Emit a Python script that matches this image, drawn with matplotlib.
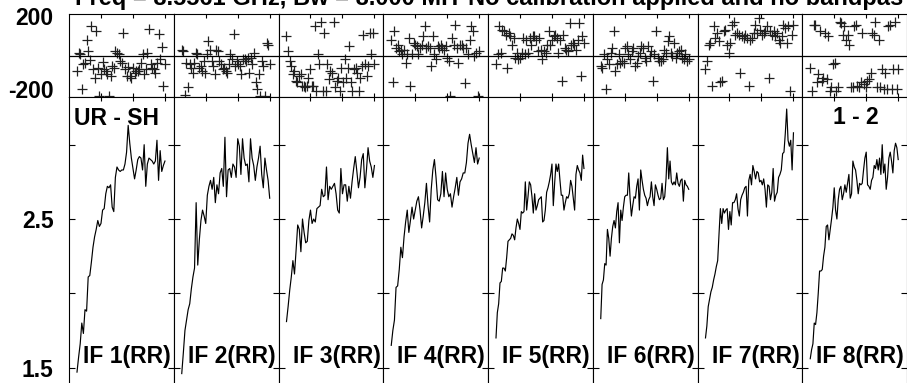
import numpy as np
import matplotlib
matplotlib.use('Agg')
import matplotlib.pyplot as plt

plt.rcParams['font.family'] = ['Liberation Sans', 'DejaVu Sans']
plt.rcParams['font.weight'] = 'bold'

# ====================== DATA ======================
title_left = "Freq = 8.5561 GHz, Bw = 8.000 MH"
title_right = "No calibration applied and no bandpas"
baseline_label = "UR - SH"
pol_label = "1 - 2"
if_labels = ['IF 1(RR)', 'IF 2(RR)', 'IF 3(RR)', 'IF 4(RR)',
             'IF 5(RR)', 'IF 6(RR)', 'IF 7(RR)', 'IF 8(RR)']

chan_first, chan_last = 5, 60
chan_ticks = [20, 40, 60]
amp_ticks = [1.5, 2.0, 2.5, 3.0]
amp_ticklabels = ['1.5', '', '2.5', '']

amp_if1 = [1.47, 1.57, 1.66, 1.80, 1.73, 1.89, 1.88, 2.11, 2.12, 2.21, 2.31, 2.38, 2.43, 2.49,
           2.45, 2.47, 2.56, 2.57, 2.67, 2.72, 2.71, 2.73, 2.58, 2.55, 2.78, 2.85, 2.83, 2.82,
           2.83, 2.83, 2.87, 2.95, 3.13, 3.01, 2.91, 2.84, 2.77, 2.83, 2.90, 2.92, 2.91, 2.83,
           3.00, 2.72, 2.87, 2.91, 2.90, 2.89, 2.87, 2.89, 3.03, 2.76, 2.96, 2.82, 2.86, 2.89]
amp_if2 = [1.46, 1.60, 1.75, 1.82, 1.89, 1.93, 2.03, 2.11, 2.17, 2.61, 2.19, 2.36, 2.49, 2.56,
           2.52, 2.47, 2.66, 2.72, 2.76, 2.70, 2.78, 2.61, 2.73, 2.67, 2.81, 2.84, 2.72, 3.05,
           2.65, 2.83, 2.84, 2.78, 2.87, 2.85, 2.78, 3.04, 2.99, 2.80, 3.04, 2.91, 2.86, 2.87,
           2.75, 3.04, 2.91, 2.86, 2.76, 2.85, 2.91, 2.99, 2.80, 2.71, 2.91, 2.83, 2.76, 2.64]
amp_if3 = [1.81, 1.91, 2.02, 2.11, 2.22, 2.13, 2.29, 2.46, 2.43, 2.28, 2.50, 2.41, 2.34, 2.35,
           2.49, 2.56, 2.47, 2.50, 2.48, 2.57, 2.58, 2.59, 2.70, 2.65, 2.66, 2.85, 2.63, 2.72,
           2.70, 2.72, 2.74, 2.67, 2.56, 2.54, 2.84, 2.67, 2.73, 2.73, 2.62, 2.72, 2.64, 2.75,
           2.84, 2.92, 2.82, 2.71, 2.78, 2.90, 2.94, 2.71, 2.83, 2.98, 2.89, 2.85, 2.78, 2.86]
amp_if4 = [1.65, 1.75, 1.82, 2.04, 2.05, 2.16, 2.31, 2.24, 2.38, 2.48, 2.56, 2.41, 2.49, 2.58,
           2.50, 2.56, 2.62, 2.65, 2.56, 2.44, 2.52, 2.61, 2.74, 2.59, 2.48, 2.70, 2.83, 2.90,
           2.78, 2.63, 2.62, 2.67, 2.82, 2.65, 2.81, 2.70, 2.65, 2.67, 2.58, 2.65, 2.71, 2.78,
           2.66, 2.75, 2.77, 2.81, 2.81, 2.88, 3.01, 3.07, 3.00, 2.94, 2.88, 2.98, 2.87, 2.91]
amp_if5 = [1.70, 1.87, 1.93, 2.07, 2.08, 2.17, 2.17, 2.15, 2.24, 2.35, 2.36, 2.37, 2.40, 2.39,
           2.36, 2.44, 2.50, 2.47, 2.43, 2.55, 2.54, 2.55, 2.75, 2.56, 2.65, 2.75, 2.73, 2.65,
           2.54, 2.67, 2.56, 2.59, 2.63, 2.64, 2.65, 2.48, 2.49, 2.56, 2.68, 2.71, 2.75, 2.80,
           2.87, 2.59, 2.74, 2.87, 2.82, 2.87, 2.76, 2.66, 2.66, 2.56, 2.61, 2.65, 2.64, 2.67,
           2.76, 2.72, 2.64, 2.56, 2.80, 2.86, 2.83, 2.81, 2.76, 2.93, 2.84]
amp_if6 = [1.83, 2.06, 2.09, 2.20, 2.19, 2.43, 2.37, 2.25, 2.37, 2.45, 2.49, 2.44, 2.55, 2.61,
           2.34, 2.56, 2.49, 2.58, 2.65, 2.66, 2.66, 2.81, 2.64, 2.52, 2.59, 2.65, 2.64, 2.72,
           2.77, 2.56, 2.83, 2.76, 2.70, 2.66, 2.64, 2.59, 2.63, 2.65, 2.75, 2.65, 2.59, 2.73,
           2.70, 2.66, 2.63, 2.64, 2.74, 2.63, 2.65, 2.77, 2.98, 2.77, 2.89, 2.75, 2.73, 2.75,
           2.73, 2.81, 2.74, 2.72, 2.76, 2.77, 2.62, 2.76, 2.73, 2.72, 2.70]
amp_if7 = [1.70, 1.78, 1.91, 1.96, 2.01, 2.04, 2.09, 2.13, 2.18, 2.22, 2.40, 2.57, 2.47, 2.57,
           2.54, 2.56, 2.57, 2.43, 2.55, 2.46, 2.61, 2.61, 2.63, 2.67, 2.57, 2.52, 2.63, 2.66,
           2.68, 2.71, 2.72, 2.52, 2.76, 2.80, 2.73, 2.86, 2.82, 2.77, 2.82, 2.81, 2.75, 2.76,
           2.73, 2.77, 2.70, 2.58, 2.73, 2.72, 2.63, 2.68, 2.84, 2.62, 2.66, 2.68, 2.78, 2.80,
           2.83, 2.94, 2.95, 3.08, 3.24, 3.03, 2.99, 3.03, 2.83, 3.08]
amp_if8 = [1.56, 1.62, 1.66, 1.80, 1.79, 1.87, 2.00, 2.15, 2.15, 2.16, 2.25, 2.31, 2.45, 2.46,
           2.36, 2.43, 2.50, 2.58, 2.71, 2.56, 2.50, 2.63, 2.70, 2.72, 2.63, 2.67, 2.73, 2.68,
           2.74, 2.80, 2.64, 2.67, 2.89, 2.85, 2.83, 2.76, 2.67, 2.74, 2.73, 2.74, 2.83, 2.91,
           2.95, 2.73, 2.72, 2.70, 2.76, 2.78, 2.86, 2.84, 2.90, 2.83, 2.91, 2.80, 3.00, 2.81,
           2.87, 2.70, 2.78, 2.91, 2.95, 2.89, 2.81, 2.96, 3.01, 2.98, 2.90]

phase_if1 = [-75, 13, 8, -163, -43, -35, 77, 24, -24, 141, -67, -107, 117, -59, -195, -91, -30,
             -67, -75, -88, -195, -99, -51, -59, 24, 10, 8, -27, -35, 109, -67, -99, -56, -99,
             -107, -59, -83, -75, -75, -67, -35, 8, -91, -67, 10, 130, -43, -59, -67, -83, -35,
             104, -19, 40, -147, -40]
phase_if2 = [29, 21, -190, -35, -155, -43, -59, -83, -35, 13, 5, -59, -51, -75, -27, -83, 5, 72,
             29, -27, -51, -91, 29, 21, -27, -43, -67, -59, -75, -83, -43, 5, -19, 104, -51, -27,
             -43, -51, -91, -19, -19, -27, -11, -83, -11, -43, 13, -131, -163, -91, -195, -27,
             -51, -195, 61, 53, -43]
phase_if3 = [93, 21, -27, -51, -91, -75, -123, -131, -99, -91, -147, -147, -155, -147, -107, -67,
             -147, -147, 141, -171, 5, -43, 165, -171, 109, -171, -43, -115, -75, -83, 165, -155,
             -123, -107, -171, -59, -131, -19, -107, -59, 45, -131, -171, -67, -59, -83, -171,
             -107, -51, 101, -43, -99, -51, 109, 5, 109, -43]
phase_if4 = [77, -130, 117, 37, 53, 21, 29, 5, 29, -35, 5, 85, -147, 5, 61, 53, 45, 5, 37, 53, 93,
             141, 37, 45, 37, -51, 93, 5, -19, 45, 37, 53, 37, 29, 45, -11, -27, -195, 85, 53, 149,
             37, -35, 53, 53, 37, -135, 37, 5, 77, 141, 117, -3, 13, -195, 21]
phase_if5 = [-43, 5, 141, 13, 125, 117, 101, -59, 109, 93, 53, 85, -11, 13, -19, -11, 13, 85, 5,
             77, 13, 85, 53, 93, 93, 77, 21, 85, 29, -19, 21, 13, 53, 117, 53, 77, 93, 101, 85, 13,
             77, -123, 101, 37, 29, 21, 157, 53, 61, 53, 29, 77, 157, -99, 93, 61]
phase_if6 = [-51, -59, 5, -163, -19, -43, 13, 37, 117, -75, -43, 5, -35, -27, -35, 37, 45, 5, -19,
             21, 37, -51, -35, -3, 13, 45, 37, -11, -27, 45, -3, 21, -123, 5, 117, -11, -27, -27,
             -19, 29, 13, 69, 93, 13, -3, 61, -11, 13, 21, 29, -11, -19, 5, -27, -19]
phase_if7 = [-67, -27, 53, 61, -147, 141, 85, 109, 69, -131, -123, 117, 125, 53, 13, 61, 149, 165,
             101, 109, 101, -83, 93, 85, 101, 85, -147, 77, 85, 109, 149, 109, 181, 125, 101, 109,
             117, 141, -107, 117, 101, 117, 93, 109, 77, 61, 93, 149, 133, 61, 141, -171, 101, 149]
phase_if8 = [-59, -171, 149, 149, -131, -91, 117, -123, -107, 109, -115, 93, -171, -155, -43, -35,
             -171, -155, 165, 157, 101, 141, 77, 101, 53, -155, -155, 141, 149, -147, -155, -131,
             109, -139, -155, -123, -115, -83, 109, 101, 165, -155, 77, -155, -67, -163, -83, -163,
             141, 149, -163, -67, 165, -163, -67]

amp_data = [amp_if1, amp_if2, amp_if3, amp_if4, amp_if5, amp_if6, amp_if7, amp_if8]
phase_data = [phase_if1, phase_if2, phase_if3, phase_if4,
              phase_if5, phase_if6, phase_if7, phase_if8]

# ====================== LAYOUT (pixels) ======================
W, H = 907, 383
panel_x0, panel_w = 69.0, 104.75
phase_top, split_y, amp_bottom = 14.3, 96.7, 388.0
FS = 16.5


def px_axes(fig, x0, y0, x1, y1):
    return fig.add_axes([x0 / W, 1 - y1 / H, (x1 - x0) / W, (y1 - y0) / H])


fig = plt.figure(figsize=(W / 100, H / 100), dpi=100)

for i in range(8):
    x0 = panel_x0 + i * panel_w
    x1 = x0 + panel_w

    # phase panel
    axp = px_axes(fig, x0, phase_top, x1, split_y)
    ph = phase_data[i]
    axp.plot(np.linspace(chan_first, chan_last, len(ph)), ph, ls='none', marker='+',
             ms=6.5, mew=0.9, color='#202020')
    axp.axhline(0, color='black', lw=0.9)
    axp.set_xlim(0, 65.5)
    axp.set_ylim(-200, 200)
    axp.set_xticks(chan_ticks)
    axp.set_yticks([])
    axp.tick_params(axis='x', direction='in', top=True, bottom=True, length=3,
                    width=0.8, labelbottom=False)

    # amplitude panel
    axa = px_axes(fig, x0, split_y, x1, amp_bottom)
    amp = amp_data[i]
    axa.plot(np.linspace(chan_first, chan_last, len(amp)), amp, color='black', lw=0.85)
    axa.set_xlim(0, 65.5)
    axa.set_ylim(1.363, 3.323)
    axa.set_xticks(chan_ticks)
    axa.set_yticks(amp_ticks)
    axa.tick_params(axis='x', direction='in', top=True, bottom=True, length=3,
                    width=0.8, labelbottom=False)
    axa.tick_params(axis='y', direction='in', left=True, right=True, length=4.5,
                    width=0.8, labelleft=(i == 0), labelsize=FS, pad=11)
    if i == 0:
        axa.set_yticklabels(amp_ticklabels, fontweight='bold')
        axp.text(-0.15, 0.951, '200', transform=axp.transAxes, ha='right', va='center',
                 fontsize=FS, fontweight='bold')
        axp.text(-0.15, 0.061, '-200', transform=axp.transAxes, ha='right', va='center',
                 fontsize=FS, fontweight='bold')
        axa.text(0.048, 0.903, baseline_label, transform=axa.transAxes, fontsize=FS,
                 fontweight='bold', va='baseline')
    if i == 7:
        axa.text(0.294, 0.906, pol_label, transform=axa.transAxes, fontsize=FS,
                 fontweight='bold', va='baseline')
    axa.text(0.135, 0.087, if_labels[i], transform=axa.transAxes, fontsize=FS,
             fontweight='bold', va='baseline', clip_on=False)

    for ax in (axp, axa):
        for s in ax.spines.values():
            s.set_linewidth(0.8)

# title sits partly above the top edge, as in the source image
fig.text(75 / W, 1 - 5.5 / H, title_left, fontsize=17, fontweight='bold', va='baseline')
fig.text(468 / W, 1 - 5.5 / H, title_right, fontsize=17, fontweight='bold', va='baseline')

fig.savefig('out.png', dpi=100)
